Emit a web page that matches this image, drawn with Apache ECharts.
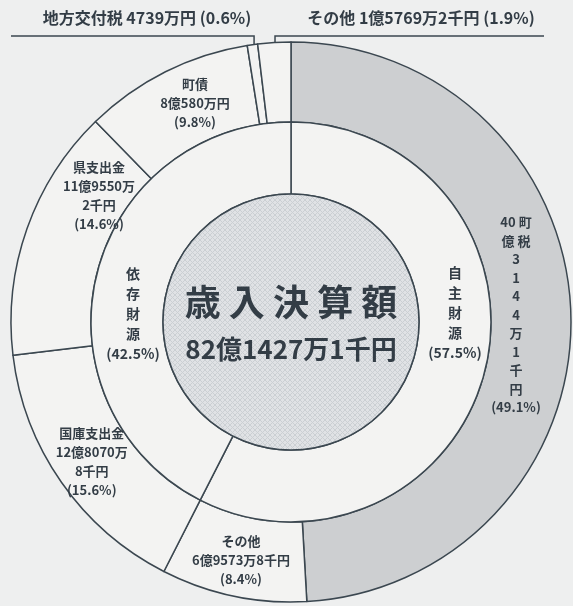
<!DOCTYPE html>
<html><head><meta charset="utf-8">
<script src="https://cdn.jsdelivr.net/npm/echarts@6/dist/echarts.min.js"></script>
<style>html,body{margin:0;padding:0;background:#eeefef;} #c{width:573px;height:606px;}</style>
</head><body><div id="c"></div>
<script>
// ---- data ----
const outerNames = ['町税','その他','国庫支出金','県支出金','町債','地方交付税','その他'];
const outerAmounts = ['40億3144万1千円','6億9573万8千円','12億8070万8千円','11億9550万2千円','8億580万円','4739万円','1億5769万2千円'];
const outerPercents = [49.1, 8.4, 15.6, 14.6, 9.8, 0.6, 1.9];
const innerNames = ['自主財源','依存財源'];
const innerPercents = [57.5, 42.5];
const totalTitle = '歳入決算額';
const totalAmount = '82億1427万1千円';

// ---- style ----
const FONT = '"Noto Sans CJK JP", "Noto Sans", sans-serif';
const C = [291, 322];
const lineColor = '#3b4750';
const textColor = '#333d46';
const ringFill = '#f3f3f2';
const grayFill = '#cdcfd1';

function pct(v){ return '(' + v.toFixed(1) + '%)'; }
function splitMan(a){ const i = a.indexOf('万'); return [a.slice(0, i+1), a.slice(i+1)]; }

function outerLabel(i){
  const n = outerNames[i], a = outerAmounts[i], p = pct(outerPercents[i]);
  if (i === 0) {
    const lines = [a.slice(0,2) + ' ' + n[0], a[2] + ' ' + n[1]].concat(a.slice(3).split(''), [p]);
    return lines.join('\n');
  }
  if (i === 2 || i === 3) { const s = splitMan(a); return [n, s[0], s[1], p].join('\n'); }
  if (i === 5 || i === 6) return n + ' ' + a + ' ' + p;
  return [n, a, p].join('\n');
}

function makePattern(){
  const cv = document.createElement('canvas'); cv.width = 5; cv.height = 5;
  const g = cv.getContext('2d');
  g.fillStyle = '#e0e2e5'; g.fillRect(0,0,5,5);
  g.strokeStyle = '#cbcfd3'; g.lineWidth = 1;
  g.beginPath(); g.moveTo(0,0); g.lineTo(5,5); g.moveTo(5,0); g.lineTo(0,5); g.stroke();
  return cv;
}

const outerData = outerNames.map((n, i) => {
  const top = (i === 5 || i === 6);
  const d = {
    name: n, value: outerPercents[i],
    itemStyle: { color: i === 0 ? grayFill : ringFill },
    label: { formatter: outerLabel(i) }
  };
  if (top) {
    d.label.position = 'outside';
    d.label.fontSize = 16;
    d.label.lineHeight = 20;
    d.labelLine = { show: true, length: 8, length2: 8, smooth: false,
      lineStyle: { color: lineColor, width: 1.5 } };
  }
  if (i === 0) d.label.lineHeight = 18.5;
  return d;
});

const innerData = innerNames.map((n, i) => ({
  name: n, value: innerPercents[i],
  itemStyle: { color: ringFill },
  label: { formatter: n.split('').join('\n') + '\n' + pct(innerPercents[i]) }
}));

const outerLabelPos = { 0: [516, 315], 3: [99, 196], 4: [195, 103] };
const topLabel = { 5: { x: 147, y: 18, end: 11 }, 6: { x: 421, y: 18, end: 544 } };
const innerLabelPos = { 0: [455, 313], 1: [133, 314] };

const chart = echarts.init(document.getElementById('c'), null, { renderer: 'canvas' });
chart.setOption({
  backgroundColor: '#eeefef',
  animation: false,
  series: [
    {
      type: 'pie', center: C, radius: [200, 280], startAngle: 90, clockwise: true,
      avoidLabelOverlap: false, silent: true,
      itemStyle: { borderColor: lineColor, borderWidth: 1.5 },
      label: { show: true, position: 'inside', color: textColor, fontFamily: FONT,
        fontSize: 13, fontWeight: 'bold', lineHeight: 19, align: 'center' },
      labelLine: { show: false },
      labelLayout: function (params) {
        const i = params.dataIndex;
        if (outerLabelPos[i]) {
          return { x: outerLabelPos[i][0], y: outerLabelPos[i][1], align: 'center', verticalAlign: 'middle' };
        }
        if (topLabel[i] && params.labelLinePoints) {
          const p0 = params.labelLinePoints[0];
          const dx = p0[0] - C[0], dy = p0[1] - C[1];
          const len = Math.hypot(dx, dy);
          const sx = C[0] + dx / len * 268, sy = C[1] + dy / len * 268;
          const t = topLabel[i];
          return {
            x: t.x, y: t.y, align: 'center', verticalAlign: 'middle',
            labelLinePoints: [[sx, sy], [sx, 36], [t.end, 36]]
          };
        }
        return {};
      },
      data: outerData
    },
    {
      type: 'pie', center: C, radius: [128, 200], startAngle: 90, clockwise: true,
      avoidLabelOverlap: false, silent: true,
      itemStyle: { borderColor: lineColor, borderWidth: 1.5 },
      label: { show: true, position: 'inside', color: textColor, fontFamily: FONT,
        fontSize: 14, fontWeight: 'bold', lineHeight: 20, align: 'center' },
      labelLine: { show: false },
      labelLayout: function (params) {
        const p = innerLabelPos[params.dataIndex];
        return p ? { x: p[0], y: p[1], align: 'center', verticalAlign: 'middle' } : {};
      },
      data: innerData
    },
    {
      type: 'pie', center: C, radius: [0, 128], silent: true,
      itemStyle: { borderColor: lineColor, borderWidth: 1.5, color: { image: makePattern(), repeat: 'repeat' } },
      label: { show: true, position: 'center',
        formatter: '{t|' + totalTitle.split('').join(' ') + '}\n{a|' + totalAmount + '}',
        rich: {
          t: { fontFamily: FONT, fontSize: 36, fontWeight: 'bold', color: textColor, lineHeight: 54 },
          a: { fontFamily: FONT, fontSize: 26, fontWeight: 'bold', color: textColor, lineHeight: 40 }
        }
      },
      labelLine: { show: false },
      data: [{ name: totalTitle, value: 1 }]
    }
  ]
});
</script>
</body></html>
